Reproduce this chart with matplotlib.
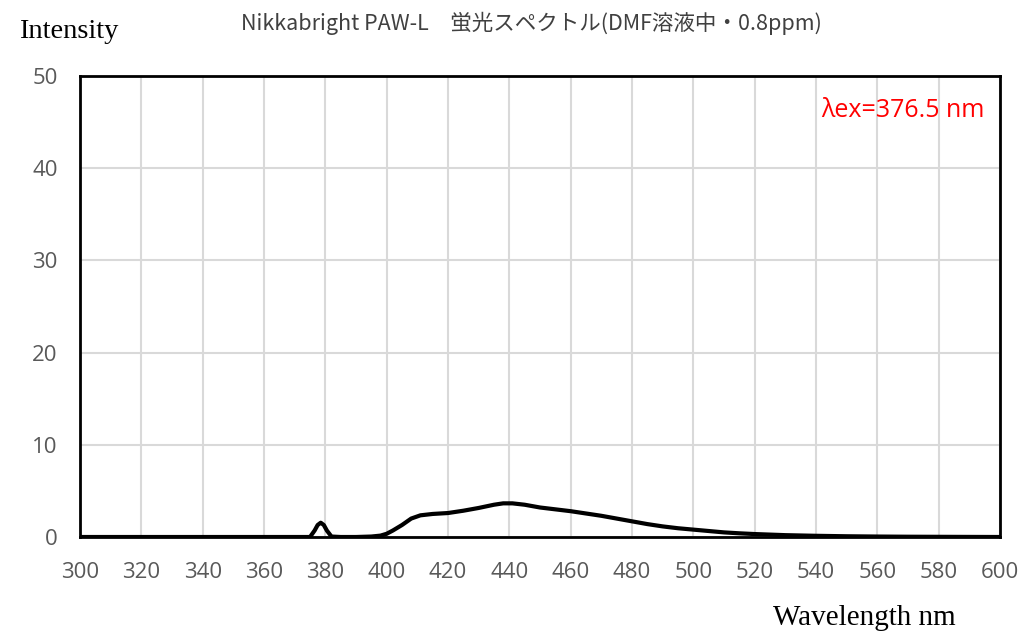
import matplotlib
matplotlib.use('Agg')
import matplotlib.pyplot as plt

# spectrum (nm, intensity)
wavelength = [300, 340, 370, 375, 376.5, 377.5, 378.5, 379.5, 380.5, 382, 385, 390, 395, 398,
              400, 402, 405, 408, 411, 415, 420, 425, 430, 435, 438, 441, 445, 450,
              455, 460, 465, 470, 475, 480, 485, 490, 495, 500, 505, 510, 515, 520,
              530, 540, 550, 560, 570, 580, 590, 600]
intensity = [0.0, 0.0, 0.0, 0.0, 0.7, 1.3, 1.55, 1.3, 0.7, 0.05, 0.0, 0.0, 0.05, 0.15,
             0.35, 0.7, 1.3, 2.0, 2.35, 2.5, 2.6, 2.85, 3.15, 3.5, 3.65, 3.65, 3.5, 3.2,
             3.0, 2.8, 2.55, 2.3, 2.0, 1.7, 1.4, 1.15, 0.95, 0.8, 0.65, 0.5, 0.4, 0.32,
             0.2, 0.13, 0.08, 0.05, 0.03, 0.02, 0.01, 0.0]

x_ticks = list(range(300, 601, 20))
y_ticks = [0, 10, 20, 30, 40, 50]

title = 'Nikkabright PAW-L\u3000蛍光スペクトル(DMF溶液中・0.8ppm)'
annot = 'λex=376.5 nm'

fig = plt.figure(figsize=(10.18, 6.32), dpi=100)
ax = fig.add_axes([80 / 1018, 95 / 632, 920 / 1018, 461 / 632])

ax.plot(wavelength, intensity, color='black', linewidth=3, solid_capstyle='round', zorder=3)

ax.set_xlim(300, 600)
ax.set_ylim(0, 50)
ax.set_xticks(x_ticks)
ax.set_yticks(y_ticks)
ax.grid(True, color='#d9d9d9', linewidth=1.5, zorder=0)
ax.set_axisbelow(True)
for sp in ax.spines.values():
    sp.set_linewidth(2)
    sp.set_color('black')
ax.tick_params(length=0, labelsize=16, labelcolor='#595959')
ax.tick_params(axis='x', pad=18)
ax.tick_params(axis='y', pad=16)
for lab in ax.get_xticklabels() + ax.get_yticklabels():
    lab.set_family('Open Sans')

ax.text(0.983, 0.925, annot, transform=ax.transAxes, ha='right', va='center',
        color='red', fontsize=18, family=['Open Sans', 'DejaVu Sans'])

fig.text(531 / 1018, 1 - 23 / 632, title, ha='center', va='center', fontsize=15.5,
         color='#404040', family=['Noto Sans CJK JP', 'DejaVu Sans'])
fig.text(19 / 1018, 1 - 32 / 632, 'Intensity', ha='left', va='center',
         fontsize=20.5, family='Liberation Serif')
fig.text(864 / 1018, 1 - 618 / 632, 'Wavelength nm', ha='center', va='center',
         fontsize=21, family='Liberation Serif')

fig.savefig('out.png', dpi=100)
